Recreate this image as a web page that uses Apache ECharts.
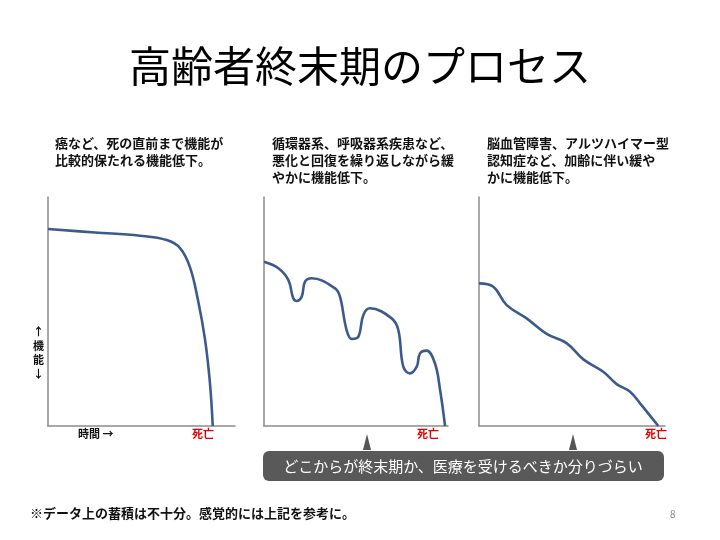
<!DOCTYPE html>
<html><head><meta charset="utf-8">
<script src="https://cdn.jsdelivr.net/npm/echarts@6/dist/echarts.min.js"></script>
<style>html,body{margin:0;padding:0;background:#fff}#c{width:720px;height:540px}</style>
</head><body><div id="c"></div>
<script>
// Chart 1: cancer etc. (time 0-100, function 0-100)
const cancerX = [0, 25.1, 49.2, 63.5, 70.6, 75.9, 80.2, 84.0, 86.6, 88.1];
const cancerY = [86.0, 84.5, 83.1, 81.2, 77.7, 69.4, 55.0, 37.6, 18.8, 0];
// Chart 2: organ failure
const organX = [0, 7.8, 13.2, 15.9, 17.8, 20.5, 22.3, 25.9, 38.6, 41.3, 44.9, 47.7, 51.3, 54.0, 57.6, 69.4, 73.0, 75.7, 79.3, 83.0, 84.8, 88.4, 92.9, 95.7, 98.4];
const organY = [71.7, 68.9, 63.8, 55.8, 54.6, 56.5, 63.0, 64.5, 60.1, 56.5, 41.9, 38.0, 39.0, 48.5, 51.4, 47.0, 41.9, 25.9, 23.0, 25.9, 31.7, 32.9, 27.4, 15.7, 0];
// Chart 3: frailty / dementia
const frailX = [0, 7.7, 14.9, 25.6, 36.4, 47.2, 56.1, 66.8, 74.0, 81.2, 86.6, 96.4];
const frailY = [62.3, 60.8, 52.8, 47.0, 40.2, 36.1, 29.1, 23.7, 18.3, 15.0, 9.9, 0];

const titleText = '高齢者終末期のプロセス';
const descs = [
  ['癌など、死の直前まで機能が', '比較的保たれる機能低下。'],
  ['循環器系、呼吸器系疾患など、', '悪化と回復を繰り返しながら緩', 'やかに機能低下。'],
  ['脳血管障害、アルツハイマー型', '認知症など、加齢に伴い緩や', 'かに機能低下。']
];
const deathLabel = '死亡';
const timeLabel = '時間 →';
const funcLabel = ['↑', '機', '能', '↓'];
const boxText = 'どこからが終末期か、医療を受けるべきか分りづらい';
const footText = '※データ上の蓄積は不十分。感覚的には上記を参考に。';
const pageNo = '8';

const FONT = '"Noto Sans CJK JP", "Noto Sans", sans-serif';
const LINE = '#3b5b8d';
const AX = '#8c8c8c';

const grids = [
  {left: 48, top: 197, width: 187, height: 229},
  {left: 264, top: 197, width: 184, height: 229},
  {left: 479, top: 197, width: 186, height: 229}
];
const seriesData = [[cancerX, cancerY], [organX, organY], [frailX, frailY]];

const chart = echarts.init(document.getElementById('c'), null, {renderer: 'canvas'});
const xAxis = [], yAxis = [], series = [];
grids.forEach((g, i) => {
  xAxis.push({type: 'value', gridIndex: i, min: 0, max: 100, axisLine: {show: true, lineStyle: {color: AX, width: 1.5}},
    axisTick: {show: false}, axisLabel: {show: false}, splitLine: {show: false}});
  yAxis.push({type: 'value', gridIndex: i, min: 0, max: 100, axisLine: {show: true, lineStyle: {color: AX, width: 1.5}},
    axisTick: {show: false}, axisLabel: {show: false}, splitLine: {show: false}});
  const [xs, ys] = seriesData[i];
  series.push({type: 'line', xAxisIndex: i, yAxisIndex: i, data: xs.map((x, k) => [x, ys[k]]),
    smooth: 0.4, showSymbol: false, lineStyle: {color: LINE, width: 2.6}, silent: true});
});

const graphic = [];
graphic.push({type: 'text', left: 'center', top: 45, style: {text: titleText, font: 'normal 42px ' + FONT, fill: '#000'}});
const descX = [55, 272, 487];
descs.forEach((lines, i) => {
  lines.forEach((t, k) => {
    graphic.push({type: 'text', left: descX[i], top: 137 + k * 17, style: {text: t, font: 'bold 13px ' + FONT, fill: '#111'}});
  });
});
graphic.push({type: 'text', left: 78, top: 428, style: {text: timeLabel, font: 'bold 11px ' + FONT, fill: '#111'}});
const deathX = [192, 417, 645];
deathX.forEach(x => graphic.push({type: 'text', left: x, top: 428, style: {text: deathLabel, font: 'bold 11px ' + FONT, fill: '#e00000'}}));
funcLabel.forEach((t, k) => {
  graphic.push({type: 'text', left: 33, top: 326 + k * 14, style: {text: t, font: 'bold 11px ' + FONT, fill: '#111'}});
});
// pointer triangles
[367, 573].forEach(cx => graphic.push({type: 'polygon', shape: {points: [[cx - 4, 450], [cx, 434], [cx + 4, 450]]}, style: {fill: '#555'}}));
graphic.push({type: 'rect', shape: {x: 263, y: 451, width: 401, height: 30, r: 6}, style: {fill: '#595959'}});
graphic.push({type: 'text', x: 463, y: 466, style: {text: boxText, font: 'normal 15px ' + FONT, fill: '#fff', textAlign: 'center', textVerticalAlign: 'middle'}});
graphic.push({type: 'text', left: 30, top: 507, style: {text: footText, font: 'bold 13px ' + FONT, fill: '#111'}});
graphic.push({type: 'text', left: 670, top: 509, style: {text: pageNo, font: 'normal 10px ' + FONT, fill: '#888'}});

chart.setOption({
  animation: false,
  backgroundColor: '#fff',
  grid: grids,
  xAxis, yAxis, series, graphic
});
</script></body></html>
